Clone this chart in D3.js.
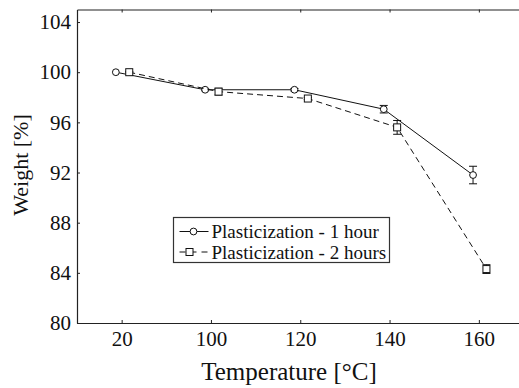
<!DOCTYPE html>
<html>
<head>
<meta charset="utf-8">
<script src="https://cdn.jsdelivr.net/npm/d3@7"></script>
<style>
  body { margin: 0; background: #fff; }
</style>
</head>
<body>
<div id="chart"></div>
<script>
// Weight loss vs plasticization temperature

const temps = ['20', '100', '120', '140', '160'];
const yTicks = [80, 84, 88, 92, 96, 100, 104];

const oneHour = [100.0, 98.6, 98.6, 97.05, 91.8];
const oneHourErr = [0.0, 0.08, 0.1, 0.3, 0.7];
const twoHours = [100.0, 98.45, 97.9, 95.6, 84.3];
const twoHoursErr = [0.05, 0.27, 0.08, 0.55, 0.35];

const seriesNames = ['Plasticization - 1 hour', 'Plasticization - 2 hours'];

const width = 519;
const height = 388;
const margin = { top: 9.5, left: 77, bottom: 323 };
const FONT = "'Liberation Serif'";

const x = d3.scaleLinear()
    .domain([-0.5, temps.length - 0.5])
    .range([margin.left, 523.5]);

const y = d3.scaleLinear()
    .domain([80, 105])
    .range([margin.bottom, margin.top]);

const svg = d3.select('#chart')
    .append('svg')
    .attr('width', width)
    .attr('height', height)
    .style('display', 'block');

// frame + axes (ticks point inward)
const xAxis = svg.append('g')
    .attr('transform', `translate(0,${margin.bottom})`)
    .call(d3.axisBottom(x)
        .tickValues(d3.range(temps.length))
        .tickFormat(i => temps[i])
        .tickSizeInner(-3)
        .tickSizeOuter(0)
        .tickPadding(8));

const xAxisTop = svg.append('g')
    .attr('transform', `translate(0,${margin.top})`)
    .call(d3.axisTop(x)
        .tickValues(d3.range(temps.length))
        .tickFormat('')
        .tickSizeInner(-3)
        .tickSizeOuter(0));

const yAxis = svg.append('g')
    .attr('transform', `translate(${margin.left},0)`)
    .call(d3.axisLeft(y)
        .tickValues(yTicks)
        .tickSizeInner(-3)
        .tickSizeOuter(0)
        .tickPadding(6));

[xAxis, xAxisTop, yAxis].forEach(ax => {
    ax.select('.domain').attr('stroke', '#222').attr('stroke-width', 1.2);
    ax.selectAll('.tick line').attr('stroke', '#222');
    ax.selectAll('.tick text')
        .attr('fill', '#111')
        .style('font-family', FONT)
        .style('font-size', '21px');
});
xAxis.selectAll('.tick text').attr('dy', '0.72em');

// axis titles
svg.append('text')
    .attr('x', 289)
    .attr('y', 380)
    .attr('text-anchor', 'middle')
    .style('font-family', FONT)
    .style('font-size', '25px')
    .attr('fill', '#111')
    .text('Temperature [°C]');

svg.append('text')
    .attr('transform', 'translate(28,165) rotate(-90)')
    .attr('text-anchor', 'middle')
    .style('font-family', FONT)
    .style('font-size', '22px')
    .attr('fill', '#111')
    .text('Weight [%]');

// series
const series = [
    { values: oneHour, err: oneHourErr, shift: -0.065, dash: null, marker: 'circle' },
    { values: twoHours, err: twoHoursErr, shift: 0.085, dash: '6,4', marker: 'square' }
];

const line = d3.line()
    .x(d => x(d.i + d.shift))
    .y(d => y(d.v));

function drawMarker(g, type, cx, cy) {
    if (type === 'circle') {
        g.append('circle')
            .attr('cx', cx).attr('cy', cy).attr('r', 3.4)
            .attr('fill', '#fff').attr('stroke', '#111').attr('stroke-width', 1);
    } else {
        g.append('rect')
            .attr('x', cx - 3.5).attr('y', cy - 3.5)
            .attr('width', 7).attr('height', 7)
            .attr('fill', '#fff').attr('stroke', '#111').attr('stroke-width', 1);
    }
}

series.forEach(s => {
    const pts = s.values.map((v, i) => ({ i, v, e: s.err[i], shift: s.shift }));
    const g = svg.append('g');

    g.append('path')
        .datum(pts)
        .attr('d', line)
        .attr('fill', 'none')
        .attr('stroke', '#111')
        .attr('stroke-width', 1)
        .attr('stroke-dasharray', s.dash);

    pts.forEach(p => {
        const cx = x(p.i + p.shift);
        if (p.e > 0.04) {
            const y0 = y(p.v - p.e), y1 = y(p.v + p.e);
            g.append('line').attr('x1', cx).attr('x2', cx).attr('y1', y0).attr('y2', y1)
                .attr('stroke', '#111');
            [y0, y1].forEach(yy => {
                g.append('line').attr('x1', cx - 4).attr('x2', cx + 4).attr('y1', yy).attr('y2', yy)
                    .attr('stroke', '#111');
            });
        }
        drawMarker(g, s.marker, cx, y(p.v));
    });
});

// legend
const legend = svg.append('g').attr('transform', 'translate(173.5,217.5)');
legend.append('rect')
    .attr('width', 216).attr('height', 45)
    .attr('fill', '#fff').attr('stroke', '#333').attr('stroke-width', 1.2);

seriesNames.forEach((name, i) => {
    const ly = 14 + i * 20.5;
    const s = series[i];
    legend.append('line')
        .attr('x1', 6).attr('x2', 35).attr('y1', ly).attr('y2', ly)
        .attr('stroke', '#111')
        .attr('stroke-dasharray', s.dash ? '6,5' : null);
    drawMarker(legend, s.marker, s.marker === 'circle' ? 20 : 16, ly);
    legend.append('text')
        .attr('x', 38).attr('y', ly)
        .attr('dy', '0.35em')
        .style('font-family', FONT)
        .style('font-size', '19px')
        .attr('fill', '#111')
        .text(name);
});
</script>
</body>
</html>
